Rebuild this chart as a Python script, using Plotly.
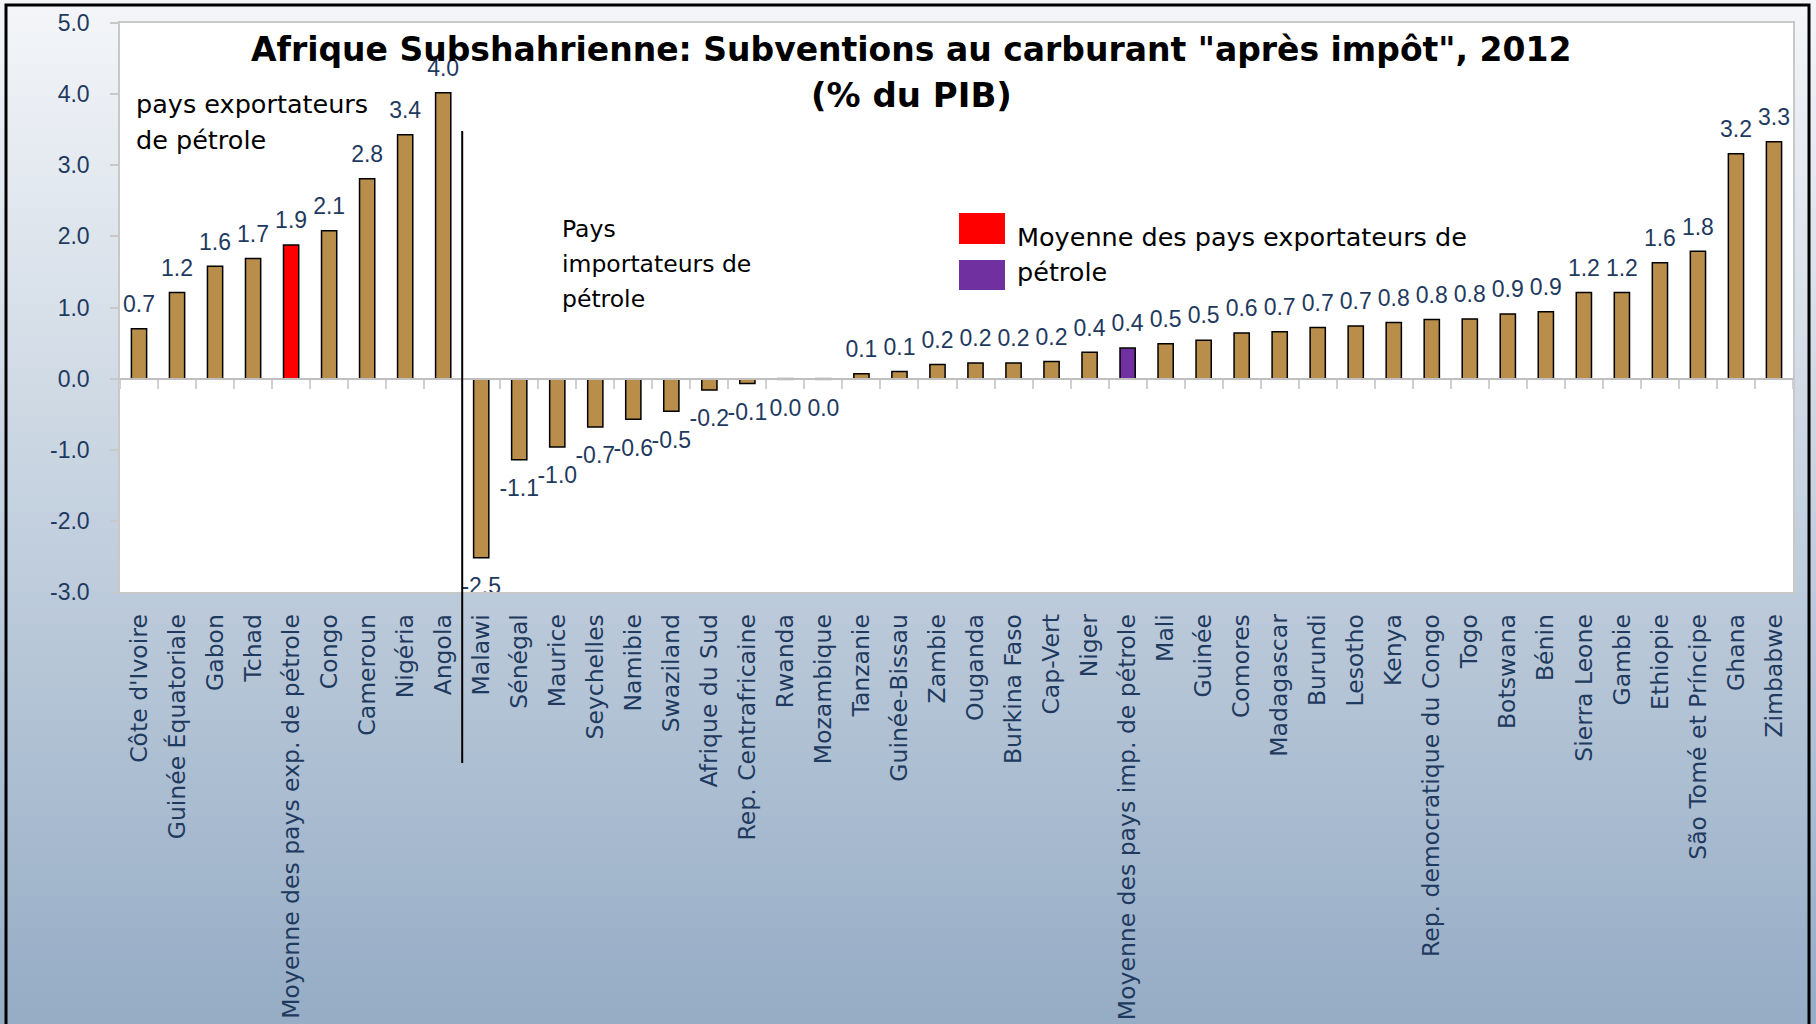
import plotly.graph_objects as go

# données (% du PIB)
pays = [
    "Côte d'Ivoire", "Guinée Équatoriale", "Gabon", "Tchad",
    "Moyenne des pays exp. de pétrole", "Congo", "Cameroun", "Nigéria", "Angola",
    "Malawi", "Sénégal", "Maurice", "Seychelles", "Namibie", "Swaziland",
    "Afrique du Sud", "Rep. Centrafricaine", "Rwanda", "Mozambique", "Tanzanie",
    "Guinée-Bissau", "Zambie", "Ouganda", "Burkina Faso", "Cap-Vert", "Niger",
    "Moyenne des pays imp. de pétrole", "Mali", "Guinée", "Comores", "Madagascar",
    "Burundi", "Lesotho", "Kenya", "Rep. democratique du Congo", "Togo", "Botswana",
    "Bénin", "Sierra Leone", "Gambie", "Ethiopie", "São Tomé et Príncipe", "Ghana",
    "Zimbabwe",
]
subventions = [
    0.70, 1.21, 1.58, 1.69, 1.88, 2.08, 2.81, 3.43, 4.02,
    -2.52, -1.14, -0.96, -0.68, -0.57, -0.46, -0.16, -0.07, -0.01, -0.01, 0.07,
    0.10, 0.20, 0.22, 0.22, 0.24, 0.37, 0.43, 0.49, 0.54, 0.64, 0.66,
    0.72, 0.74, 0.79, 0.83, 0.84, 0.91, 0.94, 1.21, 1.21, 1.63, 1.79, 3.16,
    3.33,
]
moyenne_exp = "Moyenne des pays exp. de pétrole"
moyenne_imp = "Moyenne des pays imp. de pétrole"
n_exportateurs = 9
y_ticks = [-3, -2, -1, 0, 1, 2, 3, 4, 5]

# couleurs
tan = '#B98E4A'
rouge = '#FF0000'
violet = '#7030A0'
navy = '#1F3A5F'
gris = '#C8C8C8'

colors = [rouge if p == moyenne_exp else violet if p == moyenne_imp else tan for p in pays]


def fmt(v):
    s = f"{v:.1f}"
    return "0.0" if s == "-0.0" else s


labels = [fmt(v) for v in subventions]

# mise en page (pixels de la page, marge du body mise à 0)
W, H = 1816, 1024
ml, mr, mt, mb = 120, 23, 23, 432
pw, ph = W - ml - mr, H - mt - mb


def px(x):
    return (x - ml) / pw


def py(y):
    return (H - mb - y) / ph


fig = go.Figure()

fig.add_trace(go.Bar(
    x=pays, y=subventions,
    marker=dict(color=colors, line=dict(color='black', width=1.5)),
    hoverinfo='x+y', showlegend=False,
))

# étiquettes de valeurs
fig.add_trace(go.Scatter(
    x=pays, y=subventions, mode='markers+text',
    text=labels,
    textposition=['top center' if v >= 0 else 'bottom center' for v in subventions],
    textfont=dict(family='Liberation Sans, Arial', size=23, color=navy),
    marker=dict(size=[16 if v >= 0 else 29 for v in subventions], opacity=0),
    cliponaxis=False, hoverinfo='skip', showlegend=False,
))

# axe secondaire pour la ligne du zéro avec graduations
fig.add_trace(go.Scatter(
    x=pays, y=[0] * len(pays), xaxis='x2', mode='none',
    hoverinfo='skip', showlegend=False,
))

# fond dégradé
shapes = []
n_strips = 64
top_c = (244, 246, 249)
bot_c = (149, 172, 197)
for i in range(n_strips):
    t = (i + 0.5) / n_strips
    c = tuple(round(a + (b - a) * t) for a, b in zip(top_c, bot_c))
    y0 = H * i / n_strips
    y1 = H * (i + 1) / n_strips
    shapes.append(dict(
        type='rect', xref='paper', yref='paper', layer='below',
        x0=px(-2), x1=px(W + 2), y0=py(y1 + 1), y1=py(y0 - (2 if i == 0 else 0)),
        fillcolor=f'rgb{c}', line=dict(width=0),
    ))
# zone de tracé blanche
shapes.append(dict(type='rect', xref='paper', yref='paper', layer='below',
                   x0=0, x1=1, y0=0, y1=1, fillcolor='white', line=dict(width=0)))
# cadre noir
shapes.append(dict(type='rect', xref='paper', yref='paper', layer='below',
                   x0=px(6), x1=px(1809), y0=py(1040), y1=py(5),
                   fillcolor='rgba(0,0,0,0)', line=dict(color='black', width=3)))
# séparateur exportateurs / importateurs
sep = n_exportateurs / len(pays)
shapes.append(dict(type='line', xref='paper', yref='paper', layer='above',
                   x0=sep, x1=sep, y0=py(763), y1=py(131),
                   line=dict(color='black', width=2)))
# carrés de légende
shapes.append(dict(type='rect', xref='paper', yref='paper', layer='above',
                   x0=px(959), x1=px(1005), y0=py(244), y1=py(213),
                   fillcolor=rouge, line=dict(width=0)))
shapes.append(dict(type='rect', xref='paper', yref='paper', layer='above',
                   x0=px(959), x1=px(1005), y0=py(290), y1=py(260),
                   fillcolor=violet, line=dict(width=0)))

txt_font = dict(family='DejaVu Sans, Verdana', color='black')
annotations = [
    dict(text='<b>Afrique Subshahrienne: Subventions au carburant "après impôt", 2012</b>',
         x=px(911), y=py(49), font=dict(family='DejaVu Sans', size=33, color='black'),
         xanchor='center', yanchor='middle'),
    dict(text='<b>(% du PIB)</b>',
         x=px(911), y=py(95), font=dict(family='DejaVu Sans', size=34, color='black'),
         xanchor='center', yanchor='middle'),
    dict(text='pays exportateurs', x=px(134), y=py(104), font=dict(size=25.5, **txt_font),
         xanchor='left', yanchor='middle'),
    dict(text='de pétrole', x=px(134), y=py(140), font=dict(size=25.5, **txt_font),
         xanchor='left', yanchor='middle'),
    dict(text='Pays', x=px(560), y=py(229), font=dict(size=23.5, **txt_font),
         xanchor='left', yanchor='middle'),
    dict(text='importateurs de', x=px(560), y=py(264), font=dict(size=23.5, **txt_font),
         xanchor='left', yanchor='middle'),
    dict(text='pétrole', x=px(560), y=py(299), font=dict(size=23.5, **txt_font),
         xanchor='left', yanchor='middle'),
    dict(text='Moyenne des pays exportateurs de', x=px(1015), y=py(237),
         font=dict(size=25.5, **txt_font), xanchor='left', yanchor='middle'),
    dict(text='pétrole', x=px(1015), y=py(272),
         font=dict(size=25.5, **txt_font), xanchor='left', yanchor='middle'),
]
for a in annotations:
    a.update(xref='paper', yref='paper', showarrow=False)

x_range = [-0.5, len(pays) - 0.5]
y_range = [min(y_ticks), max(y_ticks)]

fig.update_layout(
    width=W, height=H,
    margin=dict(l=ml, r=mr, t=mt, b=mb, autoexpand=False),
    paper_bgcolor='rgb(149,172,197)',
    plot_bgcolor='rgba(0,0,0,0)',
    bargap=0.6,
    showlegend=False,
    shapes=shapes,
    annotations=annotations,
    xaxis=dict(
        type='category', range=x_range, showgrid=False, zeroline=False,
        showline=True, mirror=True, linecolor=gris, linewidth=1.5,
        ticks='', tickangle=-90, ticklabelstandoff=11,
        tickfont=dict(family='DejaVu Sans, Verdana', size=23.5, color=navy),
        automargin=False,
    ),
    xaxis2=dict(
        type='category', overlaying='x', anchor='free',
        position=(0 - y_range[0]) / (y_range[1] - y_range[0]),
        range=x_range, showgrid=False, zeroline=False,
        showline=True, linecolor='#BFBFBF', linewidth=2,
        ticks='outside', tickson='boundaries', ticklen=9, tickcolor='#D0D0D0', tickwidth=1.5,
        showticklabels=False,
    ),
    yaxis=dict(
        range=y_range, tickvals=y_ticks, ticktext=[f"{v:.1f}" for v in y_ticks],
        showgrid=False, zeroline=False,
        showline=True, mirror=True, linecolor=gris, linewidth=1.5,
        ticks='outside', ticklen=8, tickcolor=gris, tickwidth=1.5,
        ticklabelstandoff=16,
        tickfont=dict(family='Liberation Sans, Arial', size=23, color=navy),
        automargin=False,
    ),
)

# supprimer la marge par défaut de la page pour que la figure remplisse la fenêtre
fig.write_html("out.html", config={'displayModeBar': False},
               post_script="document.body.style.margin = '0';")
